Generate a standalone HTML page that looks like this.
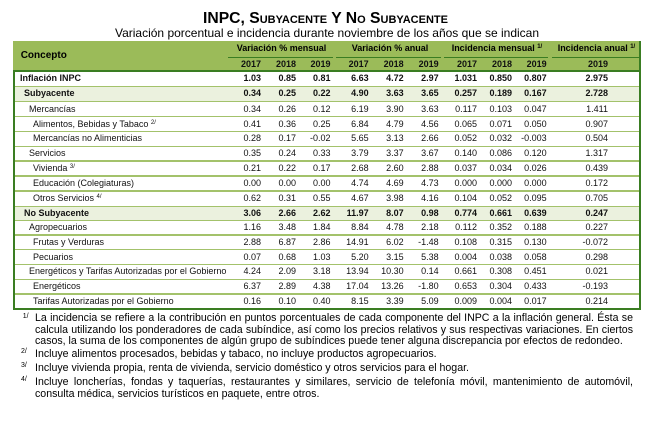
<!DOCTYPE html>
<html>
<head>
<meta charset="utf-8">
<style>
*{margin:0;padding:0;box-sizing:border-box}
html,body{width:662px;height:422px;background:#fff;overflow:hidden}
body{position:relative;font-family:"Liberation Sans",Arial,sans-serif;color:#000}
.abs{position:absolute}
.title{position:absolute;left:0;top:9.5px;width:651px;text-align:center;font-weight:bold;font-size:15.7px;line-height:18px;white-space:nowrap}
.title small{font-size:11px}
.sub{position:absolute;left:0;top:25.5px;width:654px;text-align:center;font-size:12px;line-height:14px;white-space:nowrap}
.hdr{position:absolute;left:13px;top:41px;width:627.5px;height:30px;background:#9bbb59}
.dk{position:absolute;background:#3a7d22}
.lt{position:absolute;left:14px;width:625px;height:1.5px;background:#a3c26b}
.sh{position:absolute;left:14px;width:625px;background:#ebf1de}
.ht{position:absolute;font-weight:bold;font-size:9px;white-space:nowrap}
.r{position:absolute;left:0;width:662px;font-size:9px;color:#111}
.r span{position:absolute;top:0;white-space:nowrap}
.n{width:40px;text-align:right}
.c1{left:221px}.c2{left:256px}.c3{left:290.5px}.c4{left:328.7px}.c5{left:363.7px}.c6{left:398.7px}.c7{left:437px}.c8{left:472px}.c9{left:506.7px}.c10{left:568px}
.l0{left:20px}.l1{left:24px}.l2{left:29px}.l3{left:33px}
.b{font-weight:bold}
.s{font-style:normal;font-size:6px;position:relative;top:-3px}
.fn{position:absolute;left:35px;width:598px;font-size:10.6px;line-height:11.6px;color:#000}
.j{text-align:justify;text-align-last:justify}
.fs{position:absolute;font-size:7px;line-height:8px;color:#000}
</style>
</head>
<body>
<div class="title">INPC, S<small>UBYACENTE</small> Y N<small>O</small> S<small>UBYACENTE</small></div>
<div class="sub">Variación porcentual e incidencia durante noviembre de los años que se indican</div>

<div class="hdr"></div>
<div class="dk" style="left:228px;top:56.5px;width:105px;height:1.5px"></div>
<div class="dk" style="left:336px;top:56.5px;width:105px;height:1.5px"></div>
<div class="dk" style="left:444px;top:56.5px;width:104px;height:1.5px"></div>
<div class="dk" style="left:552px;top:56.5px;width:88px;height:1.5px"></div>

<div class="ht" style="left:20.7px;top:40.5px;height:30px;line-height:30px;font-size:10px">Concepto</div>
<div class="ht" style="left:236.7px;top:40px;line-height:16px">Variación % mensual</div>
<div class="ht" style="left:351.7px;top:40px;line-height:16px">Variación % anual</div>
<div class="ht" style="left:451.7px;top:40px;line-height:16px">Incidencia mensual <i class="s">1/</i></div>
<div class="ht" style="left:557.7px;top:40px;line-height:16px">Incidencia anual <i class="s">1/</i></div>

<div class="r b" style="top:57px;height:14px;line-height:14px">
<span class="n c1">2017</span><span class="n c2">2018</span><span class="n c3">2019</span>
<span class="n c4">2017</span><span class="n c5">2018</span><span class="n c6">2019</span>
<span class="n c7">2017</span><span class="n c8">2018</span><span class="n c9">2019</span>
<span class="n c10">2019</span>
</div>

<div class="sh" style="top:86.3px;height:15.2px"></div>
<div class="sh" style="top:206.2px;height:14.1px"></div>

<div class="lt" style="top:85.6px"></div>
<div class="lt" style="top:100.8px"></div>
<div class="lt" style="top:115.8px"></div>
<div class="lt" style="top:130.6px"></div>
<div class="lt" style="top:145.5px"></div>
<div class="lt" style="top:160.3px"></div>
<div class="lt" style="top:175.3px"></div>
<div class="lt" style="top:190.3px"></div>
<div class="lt" style="top:205.5px"></div>
<div class="lt" style="top:219.6px"></div>
<div class="lt" style="top:234.1px"></div>
<div class="lt" style="top:248.8px"></div>
<div class="lt" style="top:263.6px"></div>
<div class="lt" style="top:278.5px"></div>
<div class="lt" style="top:293.3px"></div>

<div class="dk" style="left:13px;top:70px;width:627.5px;height:2px"></div>
<div class="dk" style="left:13px;top:71px;width:2px;height:238.5px"></div>
<div class="dk" style="left:638.5px;top:41px;width:2px;height:268.5px"></div>
<div class="dk" style="left:13px;top:307.5px;width:627.5px;height:2px"></div>

<div class="r b" style="top:71px;height:15.3px;line-height:15.3px"><span class="l0">Inflación INPC</span>
<span class="n c1">1.03</span><span class="n c2">0.85</span><span class="n c3">0.81</span><span class="n c4">6.63</span><span class="n c5">4.72</span><span class="n c6">2.97</span><span class="n c7">1.031</span><span class="n c8">0.850</span><span class="n c9">0.807</span><span class="n c10">2.975</span></div>

<div class="r b" style="top:86.3px;height:15.2px;line-height:15.2px"><span class="l1">Subyacente</span>
<span class="n c1">0.34</span><span class="n c2">0.25</span><span class="n c3">0.22</span><span class="n c4">4.90</span><span class="n c5">3.63</span><span class="n c6">3.65</span><span class="n c7">0.257</span><span class="n c8">0.189</span><span class="n c9">0.167</span><span class="n c10">2.728</span></div>

<div class="r" style="top:101.5px;height:15px;line-height:15px"><span class="l2">Mercancías</span>
<span class="n c1">0.34</span><span class="n c2">0.26</span><span class="n c3">0.12</span><span class="n c4">6.19</span><span class="n c5">3.90</span><span class="n c6">3.63</span><span class="n c7">0.117</span><span class="n c8">0.103</span><span class="n c9">0.047</span><span class="n c10">1.411</span></div>

<div class="r" style="top:116.5px;height:14.8px;line-height:14.8px"><span class="l3">Alimentos, Bebidas y Tabaco <i class="s">2/</i></span>
<span class="n c1">0.41</span><span class="n c2">0.36</span><span class="n c3">0.25</span><span class="n c4">6.84</span><span class="n c5">4.79</span><span class="n c6">4.56</span><span class="n c7">0.065</span><span class="n c8">0.071</span><span class="n c9">0.050</span><span class="n c10">0.907</span></div>

<div class="r" style="top:131.3px;height:14.9px;line-height:14.9px"><span class="l3">Mercancías no Alimenticias</span>
<span class="n c1">0.28</span><span class="n c2">0.17</span><span class="n c3">-0.02</span><span class="n c4">5.65</span><span class="n c5">3.13</span><span class="n c6">2.66</span><span class="n c7">0.052</span><span class="n c8">0.032</span><span class="n c9">-0.003</span><span class="n c10">0.504</span></div>

<div class="r" style="top:146.2px;height:14.8px;line-height:14.8px"><span class="l2">Servicios</span>
<span class="n c1">0.35</span><span class="n c2">0.24</span><span class="n c3">0.33</span><span class="n c4">3.79</span><span class="n c5">3.37</span><span class="n c6">3.67</span><span class="n c7">0.140</span><span class="n c8">0.086</span><span class="n c9">0.120</span><span class="n c10">1.317</span></div>

<div class="r" style="top:161px;height:15px;line-height:15px"><span class="l3">Vivienda <i class="s">3/</i></span>
<span class="n c1">0.21</span><span class="n c2">0.22</span><span class="n c3">0.17</span><span class="n c4">2.68</span><span class="n c5">2.60</span><span class="n c6">2.88</span><span class="n c7">0.037</span><span class="n c8">0.034</span><span class="n c9">0.026</span><span class="n c10">0.439</span></div>

<div class="r" style="top:176px;height:15px;line-height:15px"><span class="l3">Educación (Colegiaturas)</span>
<span class="n c1">0.00</span><span class="n c2">0.00</span><span class="n c3">0.00</span><span class="n c4">4.74</span><span class="n c5">4.69</span><span class="n c6">4.73</span><span class="n c7">0.000</span><span class="n c8">0.000</span><span class="n c9">0.000</span><span class="n c10">0.172</span></div>

<div class="r" style="top:191px;height:15.2px;line-height:15.2px"><span class="l3">Otros Servicios <i class="s">4/</i></span>
<span class="n c1">0.62</span><span class="n c2">0.31</span><span class="n c3">0.55</span><span class="n c4">4.67</span><span class="n c5">3.98</span><span class="n c6">4.16</span><span class="n c7">0.104</span><span class="n c8">0.052</span><span class="n c9">0.095</span><span class="n c10">0.705</span></div>

<div class="r b" style="top:206.2px;height:14.1px;line-height:14.1px"><span class="l1">No Subyacente</span>
<span class="n c1">3.06</span><span class="n c2">2.66</span><span class="n c3">2.62</span><span class="n c4">11.97</span><span class="n c5">8.07</span><span class="n c6">0.98</span><span class="n c7">0.774</span><span class="n c8">0.661</span><span class="n c9">0.639</span><span class="n c10">0.247</span></div>

<div class="r" style="top:220.3px;height:14.5px;line-height:14.5px"><span class="l2">Agropecuarios</span>
<span class="n c1">1.16</span><span class="n c2">3.48</span><span class="n c3">1.84</span><span class="n c4">8.84</span><span class="n c5">4.78</span><span class="n c6">2.18</span><span class="n c7">0.112</span><span class="n c8">0.352</span><span class="n c9">0.188</span><span class="n c10">0.227</span></div>

<div class="r" style="top:234.8px;height:14.7px;line-height:14.7px"><span class="l3">Frutas y Verduras</span>
<span class="n c1">2.88</span><span class="n c2">6.87</span><span class="n c3">2.86</span><span class="n c4">14.91</span><span class="n c5">6.02</span><span class="n c6">-1.48</span><span class="n c7">0.108</span><span class="n c8">0.315</span><span class="n c9">0.130</span><span class="n c10">-0.072</span></div>

<div class="r" style="top:249.5px;height:14.8px;line-height:14.8px"><span class="l3">Pecuarios</span>
<span class="n c1">0.07</span><span class="n c2">0.68</span><span class="n c3">1.03</span><span class="n c4">5.20</span><span class="n c5">3.15</span><span class="n c6">5.38</span><span class="n c7">0.004</span><span class="n c8">0.038</span><span class="n c9">0.058</span><span class="n c10">0.298</span></div>

<div class="r" style="top:264.3px;height:14.9px;line-height:14.9px"><span class="l2">Energéticos y Tarifas Autorizadas por el Gobierno</span>
<span class="n c1">4.24</span><span class="n c2">2.09</span><span class="n c3">3.18</span><span class="n c4">13.94</span><span class="n c5">10.30</span><span class="n c6">0.14</span><span class="n c7">0.661</span><span class="n c8">0.308</span><span class="n c9">0.451</span><span class="n c10">0.021</span></div>

<div class="r" style="top:279.2px;height:14.8px;line-height:14.8px"><span class="l3">Energéticos</span>
<span class="n c1">6.37</span><span class="n c2">2.89</span><span class="n c3">4.38</span><span class="n c4">17.04</span><span class="n c5">13.26</span><span class="n c6">-1.80</span><span class="n c7">0.653</span><span class="n c8">0.304</span><span class="n c9">0.433</span><span class="n c10">-0.193</span></div>

<div class="r" style="top:294px;height:14px;line-height:14px"><span class="l3">Tarifas Autorizadas por el Gobierno</span>
<span class="n c1">0.16</span><span class="n c2">0.10</span><span class="n c3">0.40</span><span class="n c4">8.15</span><span class="n c5">3.39</span><span class="n c6">5.09</span><span class="n c7">0.009</span><span class="n c8">0.004</span><span class="n c9">0.017</span><span class="n c10">0.214</span></div>

<div class="fs" style="left:22.7px;top:312.5px">1/</div>
<div class="fn j" style="top:313.2px">La incidencia se refiere a la contribución en puntos porcentuales de cada componente del INPC a la inflación general. Ésta se</div>
<div class="fn j" style="top:324.7px">calcula utilizando los ponderadores de cada subíndice, así como los precios relativos y sus respectivas variaciones. En ciertos</div>
<div class="fn" style="top:336.2px;white-space:nowrap">casos, la suma de los componentes de algún grupo de subíndices puede tener alguna discrepancia por efectos de redondeo.</div>

<div class="fs" style="left:21px;top:348px">2/</div>
<div class="fn" style="top:348.7px;white-space:nowrap">Incluye alimentos procesados, bebidas y tabaco, no incluye productos agropecuarios.</div>

<div class="fs" style="left:21px;top:362px">3/</div>
<div class="fn" style="top:362.7px;white-space:nowrap">Incluye vivienda propia, renta de vivienda, servicio doméstico y otros servicios para el hogar.</div>

<div class="fs" style="left:21px;top:376px">4/</div>
<div class="fn j" style="top:376.7px">Incluye loncherías, fondas y taquerías, restaurantes y similares, servicio de telefonía móvil, mantenimiento de automóvil,</div>
<div class="fn" style="top:388.7px;white-space:nowrap">consulta médica, servicios turísticos en paquete, entre otros.</div>
</body>
</html>
